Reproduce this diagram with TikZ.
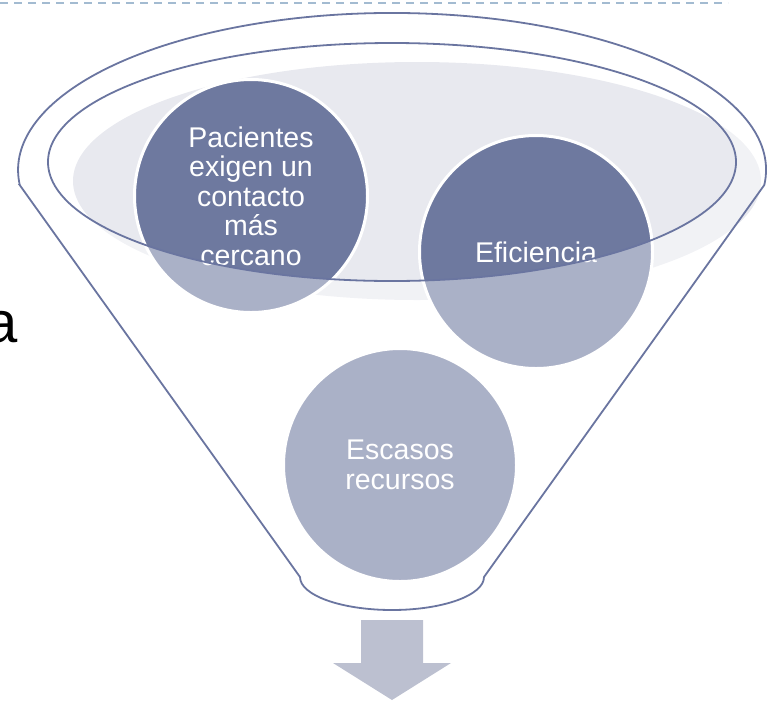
\documentclass[tikz,border=0pt]{standalone}
\usepackage{fontspec}
\setmainfont{Liberation Sans}
\definecolor{dk}{HTML}{6E799F}
\definecolor{ln}{HTML}{6A75A0}
\definecolor{gr}{HTML}{E8E9EF}
\definecolor{ar}{HTML}{BCC0D0}
\definecolor{rulecol}{HTML}{A3BBD1}
\tikzset{
  bubble/.style={circle, fill=dk, draw=white, line width=3pt, minimum size=233pt,
    inner sep=0pt, text=white, align=center, font=\fontsize{28.5}{29.5}\selectfont},
  rim/.style={draw=ln, line width=1.8pt, fill=white, fill opacity=0.42, even odd rule},
}
\begin{document}
\begin{tikzpicture}[x=1pt,y=1pt]
\useasboundingbox (0,0) rectangle (776,-702);
% dashed top rule
\coordinate (d1) at (0,-3);
\coordinate (d2) at (728,-3);
\draw[rulecol, line width=2pt, dash pattern=on 8pt off 6pt] (d1) -- (d2);
% cut-off text at left
\node[anchor=base west, inner sep=0pt, font=\fontsize{58}{60}\selectfont] (ta) at (-14.6,-342) {a};
% liquid ellipse
\fill[gr] (417,-181) ellipse [x radius=344pt, y radius=119pt];
% circles
\node[bubble] (c1) at (251,-196) {Pacientes\\exigen un\\contacto\\más\\cercano};
\node[bubble] (c2) at (536,-252) {Eficiencia};
\node[bubble] (c3) at (400,-465) {Escasos\\recursos};
% funnel body with translucent white and outlines
\path[rim] (19.7,-185) -- (300,-577)
  arc[start angle=180, end angle=360, x radius=92pt, y radius=33pt]
  -- (764.3,-185)
  arc[start angle=-5.5, end angle=185.5, x radius=374pt, y radius=157pt] -- cycle
  (392,-162) ellipse [x radius=344pt, y radius=119pt];
% arrow
\fill[ar] (361,-620) -- (423,-620) -- (423,-663) -- (451,-663) -- (392,-700)
  -- (333,-663) -- (361,-663) -- cycle;
\end{tikzpicture}
\end{document}
